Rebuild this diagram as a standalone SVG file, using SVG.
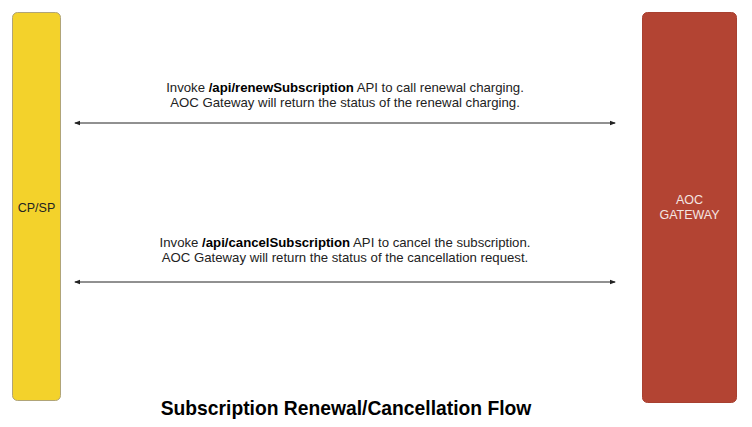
<svg xmlns="http://www.w3.org/2000/svg" width="752" height="427" viewBox="0 0 752 427">
<defs>
<style>
.t{font-family:"Liberation Sans",Arial,sans-serif;font-size:13.2px;fill:#222;text-anchor:middle}
.b{font-weight:bold;fill:#000}
.conn{stroke:#222;stroke-width:1;fill:none}
</style>
<marker id="ah" viewBox="0 0 6 6" refX="5" refY="3" markerWidth="6" markerHeight="6" orient="auto-start-reverse" markerUnits="userSpaceOnUse">
<path d="M0,0.8 L6,3 L0,5.2 Z" fill="#222"/>
</marker>
</defs>
<rect width="752" height="427" fill="#fff"/>
<g id="cpsp">
<rect x="12.5" y="12.5" width="48" height="388" rx="5" fill="#f3d22b" stroke="#b0a478" stroke-width="1"/>
<text x="36.5" y="212" class="t" style="font-size:12.5px">CP/SP</text>
</g>
<g id="aoc">
<rect x="642.5" y="12.5" width="94" height="390" rx="5" fill="#b34433" stroke="#a84030" stroke-width="1"/>
<text x="689.5" y="204" class="t" style="fill:#f4e6e2;font-size:12.5px">AOC</text>
<text x="689.5" y="219" class="t" style="fill:#f4e6e2;font-size:12.5px">GATEWAY</text>
</g>
<g id="connectors">
<line x1="75" y1="123" x2="615" y2="123" class="conn" marker-start="url(#ah)" marker-end="url(#ah)"/>
<line x1="75" y1="282" x2="615" y2="282" class="conn" marker-start="url(#ah)" marker-end="url(#ah)"/>
</g>
<g id="labels">
<text x="345" y="92" class="t">Invoke <tspan class="b">/api/renewSubscription</tspan> API to call renewal charging.</text>
<text x="345" y="107" class="t">AOC Gateway will return the status of the renewal charging.</text>
<text x="345" y="247" class="t">Invoke <tspan class="b">/api/cancelSubscription</tspan> API to cancel the subscription.</text>
<text x="345" y="262" class="t">AOC Gateway will return the status of the cancellation request.</text>
</g>
<text x="346" y="415" class="t b" style="font-size:19.3px">Subscription Renewal/Cancellation Flow</text>
</svg>
